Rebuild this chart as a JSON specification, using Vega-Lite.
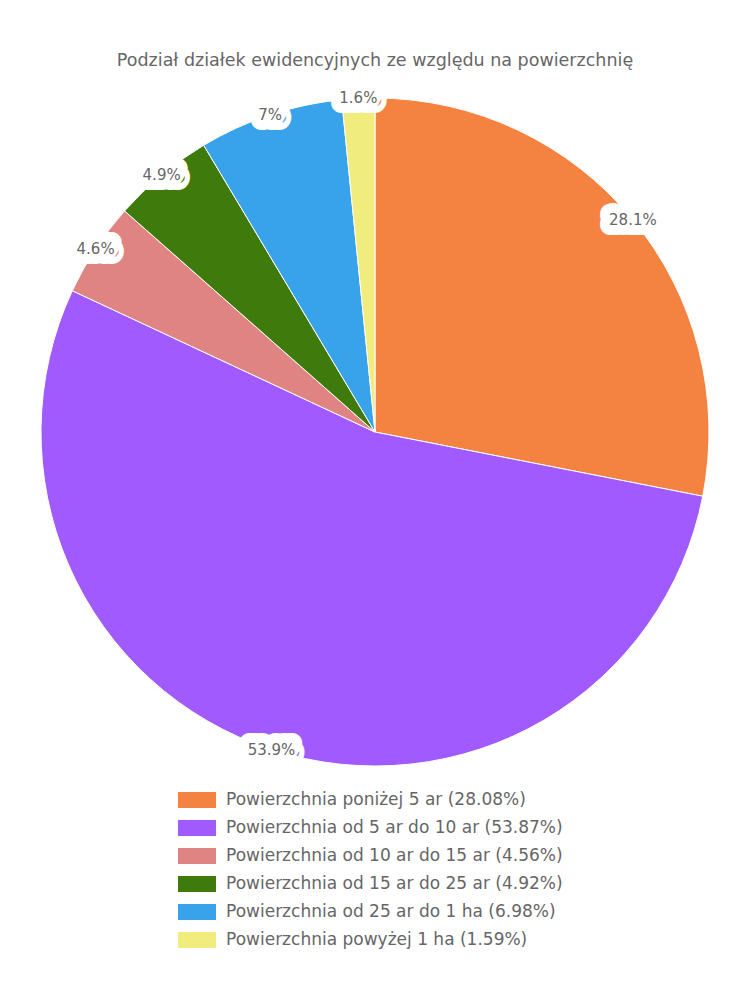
{
  "$schema": "https://vega.github.io/schema/vega-lite/v6.json",
  "autosize": "none",
  "width": 750,
  "height": 714,
  "padding": {"top": 75, "bottom": 211, "left": 0, "right": 0},
  "background": "white",
  "title": {
    "text": "Podział działek ewidencyjnych ze względu na powierzchnię",
    "font": "DejaVu Sans",
    "fontSize": 17.5,
    "fontWeight": "normal",
    "color": "#666666",
    "anchor": "middle",
    "offset": 6
  },
  "config": {"view": {"stroke": null}},
  "data": {
    "values": [
      {"kategoria": "Powierzchnia poniżej 5 ar (28.08%)", "wartosc": 28.08, "etykieta": "28.1%", "kolejnosc": 1},
      {"kategoria": "Powierzchnia od 5 ar do 10 ar (53.87%)", "wartosc": 53.87, "etykieta": "53.9%", "kolejnosc": 2},
      {"kategoria": "Powierzchnia od 10 ar do 15 ar (4.56%)", "wartosc": 4.56, "etykieta": "4.6%", "kolejnosc": 3},
      {"kategoria": "Powierzchnia od 15 ar do 25 ar (4.92%)", "wartosc": 4.92, "etykieta": "4.9%", "kolejnosc": 4},
      {"kategoria": "Powierzchnia od 25 ar do 1 ha (6.98%)", "wartosc": 6.98, "etykieta": "7%", "kolejnosc": 5},
      {"kategoria": "Powierzchnia powyżej 1 ha (1.59%)", "wartosc": 1.59, "etykieta": "1.6%", "kolejnosc": 6}
    ]
  },
  "encoding": {
    "theta": {"field": "wartosc", "type": "quantitative", "stack": true},
    "order": {"field": "kolejnosc", "type": "quantitative"}
  },
  "layer": [
    {
      "mark": {"type": "arc", "outerRadius": 334, "stroke": "white", "strokeWidth": 1},
      "encoding": {
        "color": {
          "field": "kategoria",
          "type": "nominal",
          "sort": null,
          "scale": {
            "domain": [
              "Powierzchnia poniżej 5 ar (28.08%)",
              "Powierzchnia od 5 ar do 10 ar (53.87%)",
              "Powierzchnia od 10 ar do 15 ar (4.56%)",
              "Powierzchnia od 15 ar do 25 ar (4.92%)",
              "Powierzchnia od 25 ar do 1 ha (6.98%)",
              "Powierzchnia powyżej 1 ha (1.59%)"
            ],
            "range": ["#F48342", "#A15AFE", "#E08383", "#3E7B0C", "#38A2EA", "#F0EC7E"]
          },
          "legend": {
            "title": null,
            "orient": "none",
            "legendX": 178,
            "legendY": 706,
            "direction": "vertical",
            "symbolType": "M-1,-0.42L1,-0.42L1,0.42L-1,0.42Z",
            "symbolSize": 1444,
            "symbolStrokeWidth": 0,
            "labelFont": "DejaVu Sans",
            "labelFontSize": 17,
            "labelColor": "#666666",
            "labelOffset": 10,
            "labelLimit": 500,
            "rowPadding": 1
          }
        }
      }
    },
    {
      "mark": {"type": "text", "radius": 334, "font": "DejaVu Sans", "fontSize": 15, "fill": "white", "stroke": "white", "strokeWidth": 20, "strokeJoin": "round"},
      "encoding": {"text": {"field": "etykieta", "type": "nominal"}}
    },
    {
      "mark": {"type": "text", "radius": 334, "font": "DejaVu Sans", "fontSize": 15, "fill": "#666666"},
      "encoding": {"text": {"field": "etykieta", "type": "nominal"}}
    }
  ]
}
